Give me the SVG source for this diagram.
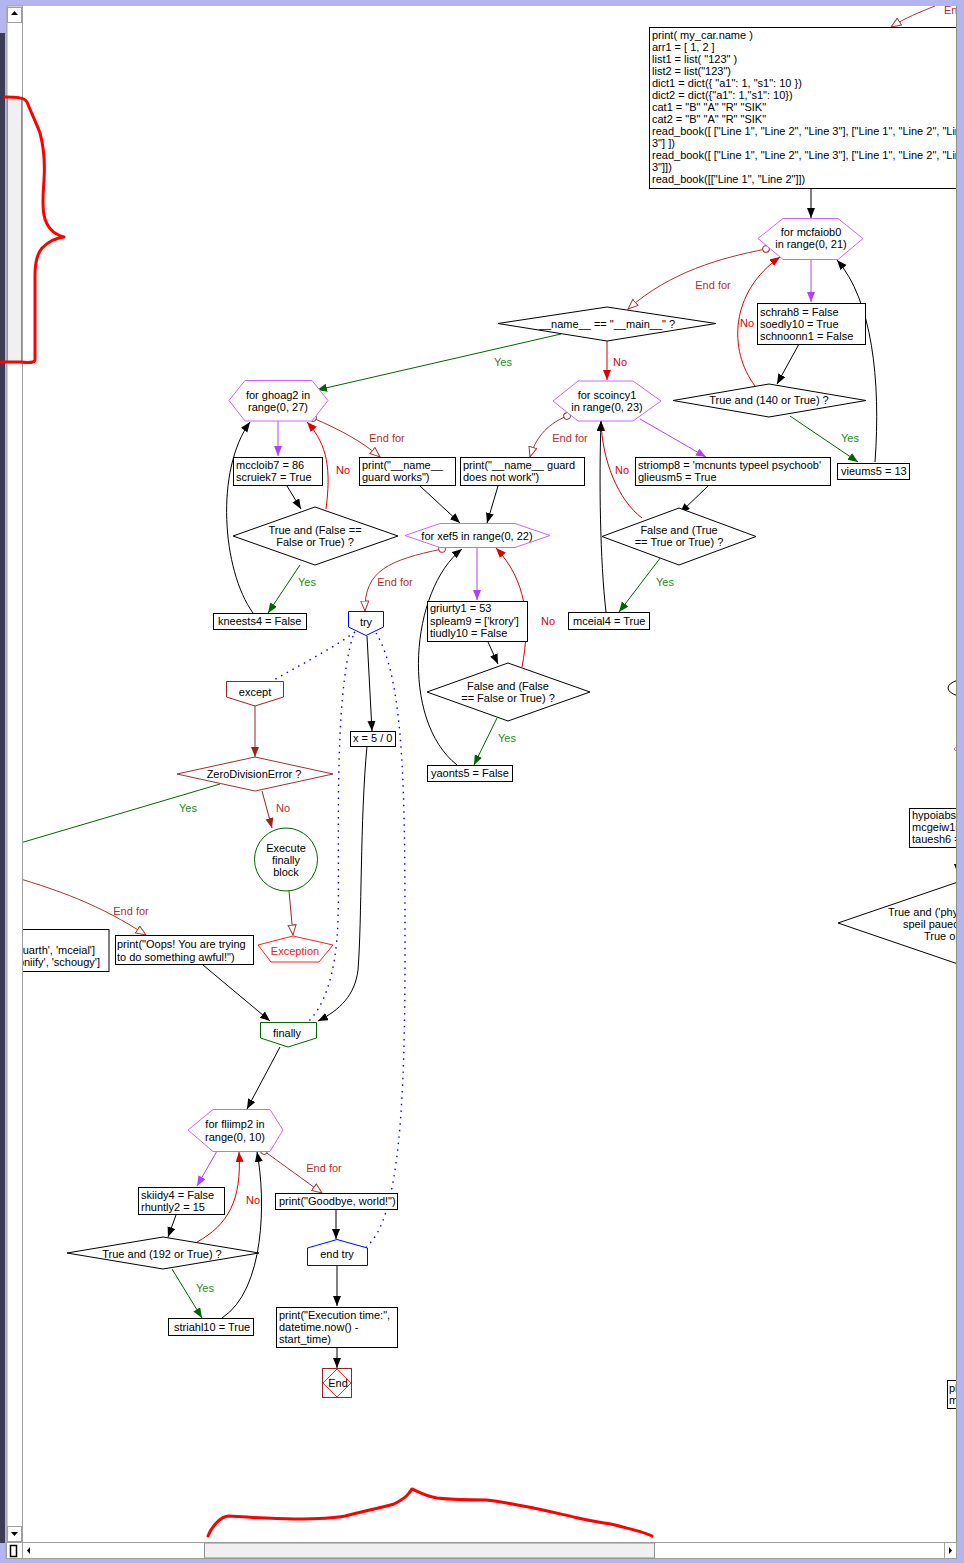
<svg xmlns="http://www.w3.org/2000/svg" width="964" height="1563" viewBox="0 0 964 1563">
<defs>
<style>
text{font-family:"Liberation Sans",Arial,sans-serif;font-size:11px;fill:#000}
.m{text-anchor:middle}
.e{text-anchor:end}
.box{fill:#fff;stroke:#000;stroke-width:1}
.hex{fill:#fff;stroke:#cc66ff;stroke-width:1}
.dia{fill:#fff;stroke:#000;stroke-width:1}
.c{fill:none;stroke-width:1}
.k{stroke:#000}
.r{stroke:#dd0000}
.g{stroke:#006400}
.p{stroke:#b040ff}
.d{stroke:#a02020}
.ef{stroke:#b03030}
.b{stroke:#0000ff;stroke-dasharray:1.5,5;stroke-width:1.4}
.ln{fill:#dd0000}
.ly{fill:#228b22}
.le{fill:#b03030}
</style>
<marker id="ak" markerUnits="userSpaceOnUse" markerWidth="11" markerHeight="9" refX="10" refY="4" orient="auto"><path d="M0,0L10,4L0,8z" fill="#000"/></marker>
<marker id="ar" markerUnits="userSpaceOnUse" markerWidth="11" markerHeight="9" refX="10" refY="4" orient="auto"><path d="M0,0L10,4L0,8z" fill="#dd0000"/></marker>
<marker id="ag" markerUnits="userSpaceOnUse" markerWidth="11" markerHeight="9" refX="10" refY="4" orient="auto"><path d="M0,0L10,4L0,8z" fill="#006400"/></marker>
<marker id="ap" markerUnits="userSpaceOnUse" markerWidth="11" markerHeight="9" refX="10" refY="4" orient="auto"><path d="M0,0L10,4L0,8z" fill="#b040ff"/></marker>
<marker id="ad" markerUnits="userSpaceOnUse" markerWidth="11" markerHeight="9" refX="10" refY="4" orient="auto"><path d="M0,0L10,4L0,8z" fill="#a02020"/></marker>
<marker id="ao" markerUnits="userSpaceOnUse" markerWidth="12" markerHeight="10" refX="10.5" refY="4.5" orient="auto"><path d="M0.5,0.5L10.5,4.5L0.5,8.5z" fill="#fff" stroke="#b03030"/></marker>
<marker id="co" markerUnits="userSpaceOnUse" markerWidth="9" markerHeight="9" refX="4.5" refY="4.5" orient="auto"><circle cx="4.5" cy="4.5" r="3.3" fill="#fff" stroke="#b03030"/></marker>
<clipPath id="cv"><rect x="23" y="6" width="934" height="1536"/></clipPath>
</defs>
<rect x="0" y="0" width="964" height="1563" fill="#fff"/>
<g clip-path="url(#cv)">
<g id="connectors">
<path class="c k" d="M811,188L811,218" marker-end="url(#ak)"/>
<path class="c p" d="M811,259L811,302" marker-end="url(#ap)"/>
<path class="c k" d="M799,344L777,384" marker-end="url(#ak)"/>
<path class="c r" d="M755,386C728,350 730,292 780,257" marker-end="url(#ar)"/>
<path class="c g" d="M790,416L858,462" marker-end="url(#ag)"/>
<path class="c k" d="M875,462C881,380 872,300 837,260" marker-end="url(#ak)"/>
<path class="c ef" d="M766,249C720,258 670,272 628,309" marker-start="url(#co)" marker-end="url(#ao)"/>
<path class="c r" d="M607,341L607,380" marker-end="url(#ar)"/>
<path class="c g" d="M561,334L317,390" marker-end="url(#ag)"/>
<path class="c ef" d="M567,416C545,425 535,440 530,457" marker-start="url(#co)" marker-end="url(#ao)"/>
<path class="c p" d="M640,419L706,457" marker-end="url(#ap)"/>
<path class="c k" d="M708,486L680,513" marker-end="url(#ak)"/>
<path class="c r" d="M642,518C618,500 602,460 601,421" marker-end="url(#ar)"/>
<path class="c g" d="M661,557L619,612" marker-end="url(#ag)"/>
<path class="c k" d="M606,612C600,560 599,480 601,421" marker-end="url(#ak)"/>
<path class="c p" d="M278,421L278,456" marker-end="url(#ap)"/>
<path class="c k" d="M287,486L301,509" marker-end="url(#ak)"/>
<path class="c r" d="M326,509C331,470 328,445 307,422" marker-end="url(#ar)"/>
<path class="c g" d="M300,565L268,613" marker-end="url(#ag)"/>
<path class="c k" d="M253,613C222,570 215,470 250,422" marker-end="url(#ak)"/>
<path class="c ef" d="M313,418C340,430 360,440 380,457" marker-start="url(#co)" marker-end="url(#ao)"/>
<path class="c k" d="M420,486L460,523" marker-end="url(#ak)"/>
<path class="c k" d="M498,486L487,523" marker-end="url(#ak)"/>
<path class="c p" d="M477,547L477,600" marker-end="url(#ap)"/>
<path class="c k" d="M488,642L498,664" marker-end="url(#ak)"/>
<path class="c r" d="M522,667C531,620 526,580 496,548" marker-end="url(#ar)"/>
<path class="c g" d="M497,718L474,765" marker-end="url(#ag)"/>
<path class="c k" d="M457,765C400,720 410,590 462,549" marker-end="url(#ak)"/>
<path class="c ef" d="M442,549C390,560 364,570 365,611" marker-start="url(#co)" marker-end="url(#ao)"/>
<path class="c k" d="M367,636L372,731" marker-end="url(#ak)"/>
<path class="c b" d="M355,632C330,650 300,665 272,681"/>
<path class="c b" d="M353,636C333,700 340,850 338,920C336,980 322,1008 308,1022"/>
<path class="c b" d="M376,633C405,680 405,800 405,950C405,1100 400,1220 366,1247"/>
<path class="c k" d="M367,746C360,820 362,920 358,970C355,995 340,1010 318,1021" marker-end="url(#ak)"/>
<path class="c k" d="M203,965L270,1021" marker-end="url(#ak)"/>
<path class="c d" d="M255,706L255,757" marker-end="url(#ad)"/>
<path class="c g" d="M220,784L0,849"/>
<path class="c d" d="M262,791L272,828" marker-end="url(#ad)"/>
<path class="c d" d="M289,891L293,935" marker-end="url(#ao)"/>
<path class="c ef" d="M0,873C60,890 100,905 146,935" marker-end="url(#ao)"/>
<path class="c k" d="M280,1047L247,1109" marker-end="url(#ak)"/>
<path class="c p" d="M217,1151L197,1186" marker-end="url(#ap)"/>
<path class="c k" d="M176,1215L168,1237" marker-end="url(#ak)"/>
<path class="c r" d="M197,1242C228,1225 242,1200 239,1152" marker-end="url(#ar)"/>
<path class="c g" d="M172,1269L202,1318" marker-end="url(#ag)"/>
<path class="c k" d="M222,1318C265,1290 266,1200 257,1152" marker-end="url(#ak)"/>
<path class="c ef" d="M264,1151L322,1193" marker-start="url(#co)" marker-end="url(#ao)"/>
<path class="c k" d="M336,1209L336,1239" marker-end="url(#ak)"/>
<path class="c k" d="M337,1265L337,1306" marker-end="url(#ak)"/>
<path class="c k" d="M337,1347L337,1368" marker-end="url(#ak)"/>
<path class="c ef" d="M935,6C920,12 905,18 891,27" marker-end="url(#ao)"/>
<path class="c k" d="M958,860L958,874" marker-end="url(#ak)"/>
<text x="944" y="14" class="le">End for</text>
<text x="713" y="289" class="m le">End for</text>
<text x="747" y="327" class="m ln">No</text>
<text x="850" y="442" class="m ly">Yes</text>
<text x="620" y="366" class="m ln">No</text>
<text x="503" y="366" class="m ly">Yes</text>
<text x="387" y="442" class="m le">End for</text>
<text x="570" y="442" class="m le">End for</text>
<text x="343" y="474" class="m ln">No</text>
<text x="622" y="474" class="m ln">No</text>
<text x="307" y="586" class="m ly">Yes</text>
<text x="665" y="586" class="m ly">Yes</text>
<text x="395" y="586" class="m le">End for</text>
<text x="548" y="625" class="m ln">No</text>
<text x="507" y="742" class="m ly">Yes</text>
<text x="188" y="812" class="m ly">Yes</text>
<text x="283" y="812" class="m le">No</text>
<text x="131" y="915" class="m le">End for</text>
<text x="324" y="1172" class="m le">End for</text>
<text x="253" y="1204" class="m ln">No</text>
<text x="205" y="1292" class="m ly">Yes</text>
</g>
<g id="code"><rect class="box" x="649.5" y="27.5" width="330" height="161"/>
<text x="652" y="39">print( my_car.name )</text>
<text x="652" y="51">arr1 = [ 1, 2 ]</text>
<text x="652" y="63">list1 = list( "123" )</text>
<text x="652" y="75">list2 = list("123")</text>
<text x="652" y="87">dict1 = dict({ "a1": 1, "s1": 10 })</text>
<text x="652" y="99">dict2 = dict({"a1": 1,"s1": 10})</text>
<text x="652" y="111">cat1 = "B" "A" "R" "SIK"</text>
<text x="652" y="123">cat2 = "B" "A" "R" "SIK"</text>
<text x="652" y="135">read_book([ ["Line 1", "Line 2", "Line 3"], ["Line 1", "Line 2", "Line</text>
<text x="652" y="147">3"] ])</text>
<text x="652" y="159">read_book([ ["Line 1", "Line 2", "Line 3"], ["Line 1", "Line 2", "Line</text>
<text x="652" y="171">3"]])</text>
<text x="652" y="183">read_book([["Line 1", "Line 2"]])</text></g>
<g id="mcfaiob0"><polygon class="hex" points="758,238.5 783,218.5 838,218.5 863,238.5 838,259.5 783,259.5"/><text x="811" y="236" class="m">for mcfaiob0</text><text x="811" y="248" class="m">in range(0, 21)</text></g>
<g id="schrah8"><rect class="box" x="757.5" y="303.5" width="108" height="41"/><text x="760" y="316">schrah8 = False</text><text x="760" y="328">soedly10 = True</text><text x="760" y="340">schnoonn1 = False</text></g>
<g id="d140"><polygon class="dia" points="673,400.5 769,384 866,400.5 769,417"/><text x="769" y="404" class="m">True and (140 or True) ?</text></g>
<g id="vieums5"><rect class="box" x="837.5" y="463.5" width="72" height="16"/><text x="841" y="475">vieums5 = 13</text></g>
<g id="dmain"><polygon class="dia" points="498,323.5 607,307 716,323.5 607,341"/><text x="607" y="328" class="m">__name__ == "__main__" ?</text></g>
<g id="scoincy1"><polygon class="hex" points="553,401 578,381 633,381 661,401 633,421 578,421"/><text x="607" y="399" class="m">for scoincy1</text><text x="607" y="411" class="m">in range(0, 23)</text></g>
<g id="ghoag2"><polygon class="hex" points="229,400.5 245,380.5 312,380.5 328,400.5 312,421 245,421"/><text x="278" y="399" class="m">for ghoag2 in</text><text x="278" y="411" class="m">range(0, 27)</text></g>
<g id="mccloib7"><rect class="box" x="233.5" y="457.5" width="89" height="28"/><text x="236" y="469">mccloib7 = 86</text><text x="236" y="481">scruiek7 = True</text></g>
<g id="pgw"><rect class="box" x="359.5" y="457.5" width="96" height="28"/><text x="362" y="469">print("__name__</text><text x="362" y="481">guard works")</text></g>
<g id="pgn"><rect class="box" x="460.5" y="457.5" width="124" height="28"/><text x="463" y="469">print("__name__ guard</text><text x="463" y="481">does not work")</text></g>
<g id="striomp8"><rect class="box" x="635.5" y="457.5" width="195" height="28"/><text x="638" y="469">striomp8 = 'mcnunts typeel psychoob'</text><text x="638" y="481">glieusm5 = True</text></g>
<g id="dTF"><polygon class="dia" points="233,536 315,507 398,536 315,565"/><text x="315" y="534" class="m">True and (False ==</text><text x="315" y="546" class="m">False or True) ?</text></g>
<g id="dFT"><polygon class="dia" points="602,536.5 679,508 756,536.5 679,565"/><text x="679" y="534" class="m">False and (True</text><text x="679" y="546" class="m">== True or True) ?</text></g>
<g id="kneests4"><rect class="box" x="213.5" y="613.5" width="93" height="16"/><text x="218" y="625">kneests4 = False</text></g>
<g id="mceial4"><rect class="box" x="568.5" y="612.5" width="81" height="17"/><text x="573" y="625">mceial4 = True</text></g>
<g id="xef5"><polygon class="hex" points="405,535.5 440,523.5 515,523.5 550,535.5 515,547.5 440,547.5"/><text x="477" y="540" class="m">for xef5 in range(0, 22)</text></g>
<g id="griurty1"><rect class="box" x="427.5" y="601.5" width="100" height="40"/><text x="430" y="612">griurty1 = 53</text><text x="430" y="624.5">spleam9 = ['krory']</text><text x="430" y="637">tiudly10 = False</text></g>
<g id="dFF"><polygon class="dia" points="427,692 508,663 590,692 508,721"/><text x="508" y="690" class="m">False and (False</text><text x="508" y="702" class="m">== False or True) ?</text></g>
<g id="yaonts5"><rect class="box" x="427.5" y="765.5" width="85" height="16"/><text x="431" y="777">yaonts5 = False</text></g>
<g id="try"><polygon points="348.5,611.5 383.5,611.5 383.5,627 366,635.5 348.5,627" fill="#fff" stroke="#0000ff"/><text x="366" y="626" class="m">try</text></g>
<g id="x50"><rect class="box" x="350.5" y="731.5" width="45" height="15"/><text x="353" y="742">x = 5 / 0</text></g>
<g id="except"><polygon points="226.5,681.5 283.5,681.5 283.5,697 255,706 226.5,697" fill="#fff" stroke="#a02020"/><text x="255" y="696" class="m">except</text></g>
<g id="zde"><polygon points="177,774 255,757 333,774 255,791" fill="#fff" stroke="#a03030"/><text x="254" y="778" class="m">ZeroDivisionError ?</text></g>
<g id="efb"><circle cx="286" cy="859.5" r="31.5" fill="#fff" stroke="#006400"/><text x="286" y="852" class="m">Execute</text><text x="286" y="864" class="m">finally</text><text x="286" y="876" class="m">block</text></g>
<g id="exception"><polygon points="293,936 333,945 319,962 271,962 258,945" fill="#fff" stroke="#ff2020"/><text x="295" y="955" class="m" fill="#ee2222" style="fill:#ee2222">Exception</text></g>
<g id="oops"><rect class="box" x="115.5" y="935.5" width="138" height="29"/><text x="117" y="948">print("Oops! You are trying</text><text x="117" y="961">to do something awful!")</text></g>
<g id="leftbox"><rect class="box" x="-30" y="929.5" width="139" height="42"/><text x="95" y="954" class="e">uarth', 'mceial']</text><text x="100" y="966" class="e">pniify', 'schougy']</text></g>
<g id="finally"><polygon points="260.5,1022.5 316.5,1022.5 316.5,1038 288,1047 260.5,1038" fill="#fff" stroke="#006400"/><text x="287" y="1037" class="m">finally</text></g>
<g id="fliimp2"><polygon class="hex" points="188,1130 213,1109.5 270,1109.5 283,1130 270,1151.5 213,1151.5"/><text x="235" y="1128" class="m">for fliimp2 in</text><text x="235" y="1141" class="m">range(0, 10)</text></g>
<g id="skiidy4"><rect class="box" x="138.5" y="1187.5" width="86" height="27"/><text x="141" y="1199">skiidy4 = False</text><text x="141" y="1211">rhuntly2 = 15</text></g>
<g id="d192"><polygon class="dia" points="67,1253 163,1237 259,1253 163,1269"/><text x="162" y="1258" class="m">True and (192 or True) ?</text></g>
<g id="striahl10"><rect class="box" x="168.5" y="1318.5" width="85" height="17"/><text x="174" y="1331">striahl10 = True</text></g>
<g id="goodbye"><rect class="box" x="275.5" y="1193.5" width="122" height="16"/><text x="279" y="1205">print("Goodbye, world!")</text></g>
<g id="endtry"><polygon points="337,1239.5 367.5,1248 367.5,1265.5 307.5,1265.5 307.5,1248" fill="#fff" stroke="#0000ff"/><text x="337" y="1258" class="m">end try</text></g>
<g id="exec"><rect class="box" x="276.5" y="1307.5" width="121" height="40"/><text x="279" y="1319">print("Execution time:",</text><text x="279" y="1331">datetime.now() -</text><text x="279" y="1343">start_time)</text></g>
<g id="end"><rect x="322.5" y="1368.5" width="29" height="29" fill="#fff" stroke="#a02020"/><polygon points="337,1369 351,1383 337,1397 323,1383" fill="none" stroke="#ff3030"/><text x="338" y="1387" class="m">End</text></g>
<g id="rightpartial">
<ellipse cx="980" cy="688" rx="32" ry="11" fill="#fff" stroke="#000"/>
<polygon class="hex" points="954,749 964,740 1100,740 1110,749 1100,758 964,758"/>
<rect class="box" x="909.5" y="808.5" width="100" height="39"/>
<text x="912" y="819">hypoiabs9</text><text x="912" y="831">mcgeiw10</text><text x="912" y="843">tauesh6 =</text>
<polygon class="dia" points="838,923 1078,841 1318,923 1078,1005"/>
<text x="888" y="916">True and ('phys</text><text x="903" y="928">speil pauect</text><text x="924" y="940">True or</text>
<rect class="box" x="947.5" y="1380.5" width="60" height="28"/>
<text x="949" y="1392">ph</text><text x="949" y="1404">m</text>
</g>
</g>
<g id="frame">
<rect x="0" y="0" width="964" height="6" fill="#b4b4ee"/>
<rect x="0" y="0" width="7" height="1563" fill="#b4b4ee"/>
<rect x="0" y="33" width="5" height="1510" fill="#3c3c55"/>
<rect x="957" y="0" width="7" height="1563" fill="#b4b4ee"/>
<line x1="956.5" y1="6" x2="956.5" y2="1542" stroke="#909090"/>
<rect x="0" y="1559" width="964" height="4" fill="#b4b4ee"/>
<rect x="7" y="6" width="15.5" height="1536" fill="#fff" stroke="#a0a0a0" stroke-width="1"/>
<rect x="7.5" y="7.5" width="14" height="15" fill="#fff" stroke="#a0a0a0"/>
<path d="M11,15L14.5,11L18,15z" fill="#000"/>
<rect x="7.5" y="97.5" width="14" height="265" fill="#f0f0f0" stroke="#909090"/>
<rect x="7.5" y="1526.5" width="14" height="15" fill="#fff" stroke="#a0a0a0"/>
<path d="M11,1532L14.5,1536L18,1532z" fill="#000"/>
<rect x="6" y="1542.5" width="950" height="16" fill="#fff" stroke="#a0a0a0"/>
<rect x="6.5" y="1542.5" width="16" height="16" fill="#fff" stroke="#a0a0a0"/>
<rect x="10.5" y="1545.5" width="6" height="11" fill="none" stroke="#000" stroke-width="1.5"/>
<path d="M30,1547L27,1550.5L30,1554z" fill="#000"/>
<rect x="204.5" y="1543" width="450" height="15" fill="#f0f0f0" stroke="#909090"/>
<rect x="944.5" y="1542.5" width="12" height="16" fill="#fff" stroke="#a0a0a0"/>
<path d="M949,1547L952,1550.5L949,1554z" fill="#000"/>
</g>
<g id="annotations" fill="none" stroke="#ff0000" stroke-width="3" stroke-linejoin="round" stroke-linecap="round">
<path d="M5,97C15,97 24,97 27,102C30,110 35,120 40,133C44,148 45,165 44,180C43,195 42,205 44,215C46,225 52,234 64,237C55,238 48,242 42,248C37,254 35,262 35,275L35,360C34,363 30,363 20,362L0,362"/>
<path d="M208,1536C211,1528 220,1516 229,1516C245,1517 270,1519 295,1519C315,1519 330,1519 345,1516C360,1512 380,1508 394,1504C402,1500 407,1496 409,1493L412,1489C415,1490 425,1496 437,1498C455,1500 470,1500 486,1500C500,1501 510,1504 523,1506C545,1510 560,1514 578,1518C595,1522 605,1523 615,1525C630,1529 645,1532 652,1536"/>
</g>
</svg>
